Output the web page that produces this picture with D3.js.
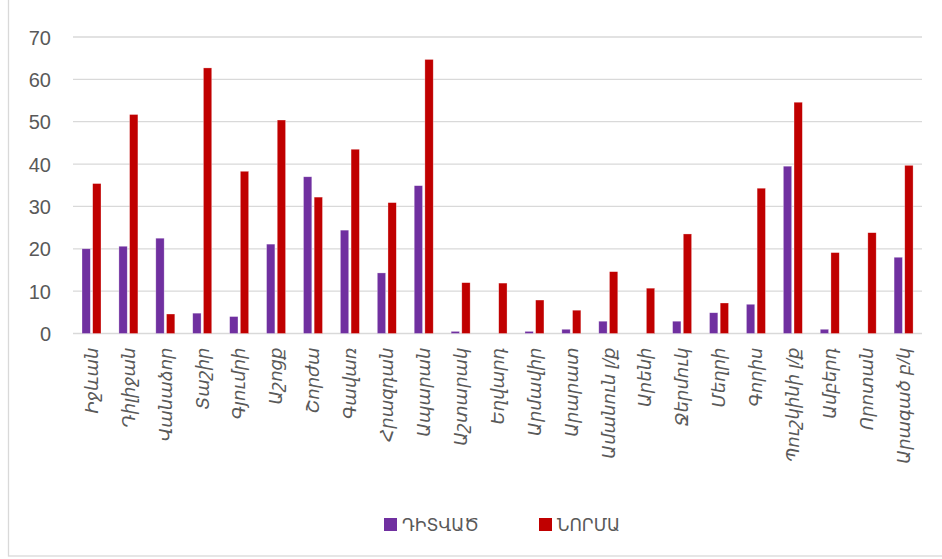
<!DOCTYPE html>
<html>
<head>
<meta charset="utf-8">
<script src="https://cdn.jsdelivr.net/npm/d3@7"></script>
<style>
  html, body { margin: 0; padding: 0; background: #ffffff; }
  svg { display: block; }
  text { font-family: "Liberation Sans", "DejaVu Sans", sans-serif; fill: #595959; }
</style>
</head>
<body>
<svg id="chart" width="942" height="559"></svg>
<script>
// Stations along the x axis
const stations = [
  "Իջևան", "Դիլիջան", "Վանաձոր", "Տաշիր", "Գյումրի", "Աշոցք", "Շորժա",
  "Գավառ", "Հրազդան", "Ապարան", "Աշտարակ", "Եղվարդ", "Արմավիր", "Արարատ",
  "Ամանուն լ/ք", "Արենի", "Ջերմուկ", "Մեղրի", "Գորիս", "Պուշկինի լ/ք",
  "Ամբերդ", "Որոտան", "Արագած բ/կ"
];
// Observed values (ԴԻՏՎԱԾ)
const observed = [
  20.0, 20.6, 22.5, 4.8, 4.0, 21.1, 37.0, 24.4, 14.3, 34.9, 0.5, 0,
  0.5, 1.0, 2.9, 0, 2.9, 4.9, 6.9, 39.5, 1.0, 0, 18.0
];
// Climate norm (ՆՈՐՄԱ)
const norm = [
  35.4, 51.7, 4.6, 62.7, 38.3, 50.4, 32.2, 43.5, 30.9, 64.7, 12.0, 11.9,
  7.9, 5.5, 14.6, 10.7, 23.5, 7.2, 34.3, 54.6, 19.1, 23.8, 39.7
];
const seriesNames = ["ԴԻՏՎԱԾ", "ՆՈՐՄԱ"];
const seriesColors = ["#7030A0", "#C00000"];
const yTicks = [0, 10, 20, 30, 40, 50, 60, 70];

const svg = d3.select("#chart");

// outer frame
svg.append("rect")
  .attr("x", 8.5).attr("y", -2)
  .attr("width", 940).attr("height", 558)
  .attr("fill", "none").attr("stroke", "#d9d9d9").attr("stroke-width", 1.3);

const plot = { left: 73, right: 922, top: 37, bottom: 333.5 };

const x = d3.scaleBand()
  .domain(stations)
  .range([plot.left, plot.right])
  .paddingInner(0)
  .paddingOuter(0);

const x1 = d3.scaleBand()
  .domain(seriesNames)
  .range([9, 28])
  .paddingInner(0.22);

const y = d3.scaleLinear()
  .domain([0, 70])
  .range([plot.bottom, plot.top]);

// gridlines
svg.append("g")
  .selectAll("line")
  .data(yTicks)
  .join("line")
  .attr("x1", plot.left).attr("x2", plot.right)
  .attr("y1", d => y(d)).attr("y2", d => y(d))
  .attr("stroke", "#d9d9d9").attr("stroke-width", 1.3);

// y axis labels
const yAxis = d3.axisLeft(y).tickValues(yTicks).tickSize(0).tickPadding(0);
svg.append("g")
  .attr("transform", `translate(51,0)`)
  .call(yAxis)
  .call(g => g.select(".domain").remove())
  .call(g => g.selectAll("text")
    .attr("font-size", 20)
    .attr("font-family", "'Liberation Sans', sans-serif")
    .attr("fill", "#595959")
    .attr("dy", "0.35em"));

// bars
const rows = stations.map((s, i) => ({ station: s, values: [observed[i], norm[i]] }));
const groups = svg.append("g")
  .selectAll("g")
  .data(rows)
  .join("g")
  .attr("transform", d => `translate(${x(d.station)},0)`);

groups.selectAll("rect")
  .data(d => d.values.map((v, k) => ({ key: seriesNames[k], value: v, color: seriesColors[k] })))
  .join("rect")
  .filter(d => d.value > 0)
  .attr("x", d => x1(d.key))
  .attr("width", x1.bandwidth())
  .attr("y", d => y(d.value))
  .attr("height", d => y(0) - y(d.value))
  .attr("fill", d => d.color)
  .attr("stroke", "#ffffff")
  .attr("stroke-opacity", 0.5)
  .attr("stroke-width", 0.6);

// x axis labels, rotated
const xAxis = d3.axisBottom(x).tickSize(0).tickPadding(0);
svg.append("g")
  .attr("transform", `translate(0,${plot.bottom})`)
  .call(xAxis)
  .call(g => g.select(".domain").remove())
  .call(g => g.selectAll(".tick text")
    .attr("transform", "rotate(-90)")
    .attr("x", -14)
    .attr("y", 0)
    .attr("dy", "0.35em")
    .attr("text-anchor", "end")
    .attr("font-size", 18)
    .attr("font-style", "italic")
    .attr("font-family", "'DejaVu Sans', sans-serif")
    .attr("fill", "#595959"));

// legend
const legendItems = [
  { name: seriesNames[0], color: seriesColors[0], x: 384 },
  { name: seriesNames[1], color: seriesColors[1], x: 539 }
];
const legend = svg.append("g");
legend.selectAll("rect")
  .data(legendItems)
  .join("rect")
  .attr("x", d => d.x).attr("y", 518)
  .attr("width", 13).attr("height", 13)
  .attr("fill", d => d.color);
legend.selectAll("text")
  .data(legendItems)
  .join("text")
  .attr("x", d => d.x + 18).attr("y", 525)
  .attr("dy", "0.35em")
  .attr("font-size", 17)
  .attr("font-family", "'DejaVu Sans', sans-serif")
  .attr("fill", "#595959")
  .text(d => d.name);
</script>
</body>
</html>
